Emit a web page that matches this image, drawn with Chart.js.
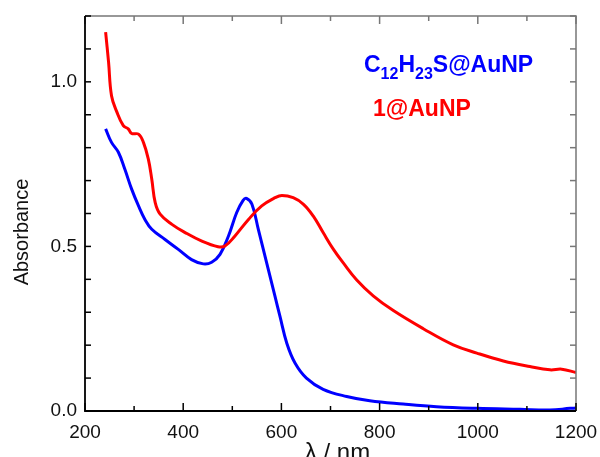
<!DOCTYPE html>
<html>
<head>
<meta charset="utf-8">
<script src="https://cdn.jsdelivr.net/npm/chart.js@4"></script>
<style>
  html, body { margin: 0; padding: 0; background: #fff; }
  #wrap { width: 600px; height: 457px; }
</style>
</head>
<body>
<div id="wrap"><canvas id="uvvis" width="600" height="457"></canvas></div>
<script>
// wavelengths (nm) and absorbance
var blueX = [242, 254, 268, 281, 295, 309, 322, 336, 363, 390, 417, 441, 458, 475, 492, 509, 522, 529, 540, 553, 570, 587, 597, 611, 628, 651, 685, 733, 780, 848, 916, 998, 1086, 1147, 1188, 1200];
var blueY = [0.857, 0.816, 0.786, 0.735, 0.674, 0.623, 0.582, 0.552, 0.521, 0.491, 0.460, 0.447, 0.452, 0.476, 0.531, 0.603, 0.640, 0.646, 0.628, 0.552, 0.450, 0.348, 0.288, 0.206, 0.145, 0.100, 0.066, 0.044, 0.031, 0.021, 0.013, 0.008, 0.005, 0.003, 0.008, 0.009];

var redX = [242, 248, 254, 265, 278, 288, 295, 309, 319, 329, 336, 343, 353, 377, 404, 438, 471, 485, 505, 533, 560, 587, 601, 624, 645, 665, 685, 706, 726, 753, 787, 828, 889, 950, 998, 1052, 1106, 1147, 1171, 1200];
var redY = [1.151, 1.060, 0.958, 0.908, 0.867, 0.857, 0.843, 0.841, 0.816, 0.765, 0.704, 0.633, 0.598, 0.567, 0.542, 0.516, 0.499, 0.501, 0.531, 0.582, 0.623, 0.648, 0.655, 0.648, 0.628, 0.592, 0.542, 0.491, 0.450, 0.399, 0.350, 0.305, 0.250, 0.201, 0.176, 0.152, 0.135, 0.125, 0.127, 0.117];

var xTickLabels = [200, 400, 600, 800, 1000, 1200];
var yTickLabels = ['0.0', '0.5', '1.0'];

function pts(xs, ys) {
    return xs.map(function (v, i) { return {x: v, y: ys[i]}; });
}

var FONT = "'Liberation Sans', Arial, sans-serif";

var framePlugin = {
    id: 'frame',
    afterDraw: function (chart) {
        var ctx = chart.ctx, a = chart.chartArea, x = chart.scales.x, y = chart.scales.y;
        ctx.save();
        ctx.lineCap = 'butt';
        // top + right border (grey)
        ctx.strokeStyle = '#777';
        ctx.lineWidth = 1.5;
        ctx.beginPath();
        ctx.moveTo(a.left, a.top); ctx.lineTo(a.right, a.top); ctx.lineTo(a.right, a.bottom);
        ctx.stroke();
        // inward ticks on top / right
        x.ticks.forEach(function (t) {
            var px = x.getPixelForValue(t.value);
            var len = xTickLabels.indexOf(t.value) >= 0 ? 8 : 5;
            ctx.beginPath(); ctx.moveTo(px, a.top); ctx.lineTo(px, a.top + len); ctx.stroke();
        });
        y.ticks.forEach(function (t) {
            var py = y.getPixelForValue(t.value);
            ctx.beginPath(); ctx.moveTo(a.right, py); ctx.lineTo(a.right - 6, py); ctx.stroke();
        });
        // left + bottom border (black)
        ctx.strokeStyle = '#000';
        ctx.lineWidth = 1.8;
        ctx.beginPath();
        ctx.moveTo(a.left, a.top); ctx.lineTo(a.left, a.bottom); ctx.lineTo(a.right, a.bottom);
        ctx.stroke();
        ctx.lineWidth = 1.5;
        x.ticks.forEach(function (t) {
            var px = x.getPixelForValue(t.value);
            var len = xTickLabels.indexOf(t.value) >= 0 ? 8 : 5;
            ctx.beginPath(); ctx.moveTo(px, a.bottom); ctx.lineTo(px, a.bottom - len); ctx.stroke();
        });
        y.ticks.forEach(function (t) {
            var py = y.getPixelForValue(t.value);
            ctx.beginPath(); ctx.moveTo(a.left, py); ctx.lineTo(a.left + 6, py); ctx.stroke();
        });

        // axis titles
        ctx.fillStyle = '#111';
        ctx.font = '24px ' + FONT;
        ctx.textAlign = 'center';
        ctx.textBaseline = 'alphabetic';
        ctx.fillText('\u03bb / nm', (a.left + a.right) / 2 + 7, 460);
        ctx.save();
        ctx.translate(28, 232);
        ctx.rotate(-Math.PI / 2);
        ctx.font = '20px ' + FONT;
        ctx.fillText('Absorbance', 0, 0);
        ctx.restore();

        // in-plot labels
        ctx.textAlign = 'left';
        var cx = 364, big = 'bold 23px ' + FONT, small = 'bold 16px ' + FONT;
        ctx.fillStyle = '#0000ff';
        [['C', big, 72], ['12', small, 79], ['H', big, 72], ['23', small, 79], ['S@AuNP', big, 72]].forEach(function (p) {
            ctx.font = p[1];
            ctx.fillText(p[0], cx, p[2]);
            cx += ctx.measureText(p[0]).width;
        });
        ctx.fillStyle = '#ff0000';
        ctx.font = big;
        ctx.fillText('1@AuNP', 373, 116);
        ctx.restore();
    }
};

new Chart(document.getElementById('uvvis'), {
    type: 'line',
    data: {
        datasets: [{
            label: '1@AuNP',
            data: pts(redX, redY),
            borderColor: '#ff0000',
            borderWidth: 3,
            pointRadius: 0,
            tension: 0.4
        }, {
            label: 'C12H23S@AuNP',
            data: pts(blueX, blueY),
            borderColor: '#0000ff',
            borderWidth: 3,
            pointRadius: 0,
            tension: 0.4
        }]
    },
    options: {
        responsive: false,
        animation: false,
        layout: { padding: { top: 16, right: 24, left: 0, bottom: 0 } },
        plugins: { legend: { display: false }, tooltip: { enabled: false } },
        scales: {
            x: {
                type: 'linear',
                min: 200,
                max: 1200,
                grid: { display: false, drawTicks: false },
                border: { display: false },
                afterFit: function (s) { s.height = 46; s.paddingLeft = 0; s.paddingRight = 0; },
                ticks: {
                    stepSize: 100,
                    autoSkip: false,
                    maxRotation: 0,
                    padding: 10,
                    color: '#111',
                    font: { family: FONT, size: 19 },
                    callback: function (v) { return xTickLabels.indexOf(v) >= 0 ? String(v) : ''; }
                }
            },
            y: {
                min: 0,
                max: 1.2,
                grid: { display: false, drawTicks: false },
                border: { display: false },
                afterFit: function (s) { s.width = 85; s.paddingTop = 0; s.paddingBottom = 0; },
                ticks: {
                    stepSize: 0.1,
                    padding: 8,
                    color: '#111',
                    font: { family: FONT, size: 19 },
                    callback: function (v) {
                        var s = (Math.round(v * 10) / 10).toFixed(1);
                        return yTickLabels.indexOf(s) >= 0 ? s : '';
                    }
                }
            }
        }
    },
    plugins: [framePlugin]
});
</script>
</body>
</html>
